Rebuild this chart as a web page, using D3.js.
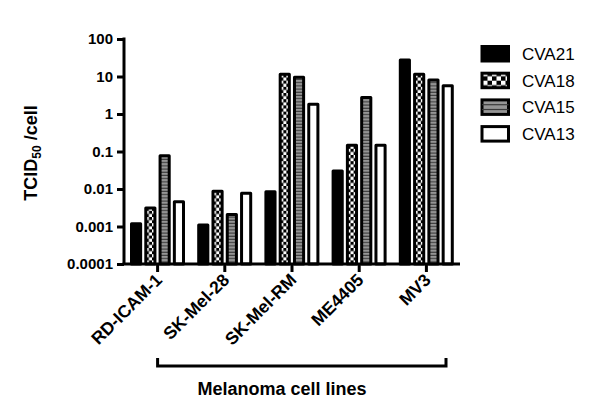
<!DOCTYPE html>
<html><head><meta charset="utf-8">
<script src="https://cdn.jsdelivr.net/npm/d3@7"></script>
<style>body{margin:0;background:#fff}svg{display:block}text{font-family:Arial,"Liberation Sans",sans-serif}</style>
</head><body><svg id="c" width="600" height="418"></svg>
<script>
const categories = ["RD-ICAM-1","SK-Mel-28","SK-Mel-RM","ME4405","MV3"];
const seriesNames = ["CVA21","CVA18","CVA15","CVA13"];
const CVA21 = [0.0013, 0.0012, 0.0092, 0.033, 30];
const CVA18 = [0.0034, 0.0095, 12.5, 0.16, 12.5];
const CVA15 = [0.085, 0.0023, 10.5, 3.0, 8.8];
const CVA13 = [0.005, 0.0085, 2.0, 0.16, 6.2];
const yTicks = [0.0001, 0.001, 0.01, 0.1, 1, 10, 100];
const yTickLabels = ["0.0001","0.001","0.01","0.1","1","10","100"];
const groupLabel = "Melanoma cell lines";
const seriesValues = [CVA21, CVA18, CVA15, CVA13];

(function(){
const svg = d3.select("#c");
const defs = svg.append("defs");
const mL = 124, mR = 460, mT = 39, mB = 264;

const x0 = d3.scaleBand().domain(categories).range([mL, mR]).padding(0);
const x1 = d3.scaleBand().domain(seriesNames).range([6, 61]).paddingInner(0.15).paddingOuter(0);
const y = d3.scaleLog().domain([1e-4, 100]).range([mB, mT]);

function checker(id, x, s) {
  const p = defs.append("pattern").attr("id", id).attr("patternUnits","userSpaceOnUse")
    .attr("x", x).attr("y", 0).attr("width", 2*s).attr("height", 2*s);
  p.append("rect").attr("width", 2*s).attr("height", 2*s).attr("fill", "#000");
  p.append("rect").attr("width", s).attr("height", s).attr("fill", "#fff");
  p.append("rect").attr("x", s).attr("y", s).attr("width", s).attr("height", s).attr("fill", "#fff");
}
function stripes(id, y0, period, dark) {
  const p = defs.append("pattern").attr("id", id).attr("patternUnits","userSpaceOnUse")
    .attr("x", 0).attr("y", y0).attr("width", 10).attr("height", period);
  p.append("rect").attr("width", 10).attr("height", period).attr("fill", "#959595");
  p.append("rect").attr("y", period-dark).attr("width", 10).attr("height", dark).attr("fill", "#3a3a3a");
}
categories.forEach((c, ci) => {
  const xs = x0(c) + x1("CVA18") + 1.5;
  checker("chk" + ci, xs, 3.1);
});
stripes("str", 0, 3.2, 1.1);

const data = [];
categories.forEach((c, ci) => seriesNames.forEach((s, si) => data.push({c, ci, s, si, v: seriesValues[si][ci]})));

function fillFor(d) {
  if (d.si === 0) return "#000";
  if (d.si === 1) return "url(#chk" + d.ci + ")";
  if (d.si === 2) return "url(#str)";
  return "#fff";
}

svg.append("g").selectAll("rect").data(data).join("rect")
  .attr("x", d => x0(d.c) + x1(d.s) + 1.5)
  .attr("width", x1.bandwidth() - 3)
  .attr("y", d => y(d.v) + 1.5)
  .attr("height", d => mB - y(d.v) - 1.5)
  .attr("fill", fillFor)
  .attr("stroke", "#000").attr("stroke-width", 3).attr("stroke-linejoin", "round");

const ya = svg.append("g").attr("transform", `translate(${mL},0)`)
  .call(d3.axisLeft(y).tickValues(yTicks).tickFormat((d,i) => yTickLabels[i]).tickSize(7).tickPadding(4));
ya.select(".domain").attr("stroke-width", 3).attr("d", `M0,${mT-1.5}V${mB}`);
ya.selectAll(".tick line").attr("stroke-width", 3);
ya.selectAll(".tick text").attr("font-size", 15).attr("font-weight", "bold").attr("fill", "#000")
  .attr("font-family", "Arial, 'Liberation Sans', sans-serif");

const xa = svg.append("g").attr("transform", `translate(0,${mB})`)
  .call(d3.axisBottom(x0).tickSize(8).tickFormat(""));
xa.select(".domain").attr("stroke-width", 3).attr("d", `M${mL-1.5},0H${mR}`);
xa.selectAll(".tick line").attr("stroke-width", 3);

svg.append("g").selectAll("text").data(categories).join("text")
  .attr("transform", d => `translate(${x0(d) + x0.bandwidth()/2 + 5.5},${mB + 17}) rotate(-45)`)
  .attr("text-anchor", "end").attr("font-size", 17.5).attr("font-weight", "bold").text(d => d);

const yl = svg.append("text").attr("transform", "translate(37,153) rotate(-90)")
  .attr("text-anchor", "middle").attr("font-size", 18).attr("font-weight", "bold");
yl.append("tspan").text("TCID");
yl.append("tspan").attr("font-size", 12).attr("dy", 4).text("50");
yl.append("tspan").attr("dy", -4).text(" /cell");

const bx0 = x0(categories[0]) + x0.bandwidth()/2;
const bx1 = mR - 14;
svg.append("path").attr("d", `M${bx0},358V366H${bx1}V358`).attr("fill", "none")
  .attr("stroke", "#000").attr("stroke-width", 3);
svg.append("text").attr("x", 282).attr("y", 395).attr("text-anchor", "middle")
  .attr("font-size", 18).attr("font-weight", "bold").text(groupLabel);

defs.append("pattern").attr("id", "lchk").attr("patternUnits", "userSpaceOnUse")
  .attr("x", 483).attr("y", 0).attr("width", 9).attr("height", 9)
  .call(p => { p.append("rect").attr("width", 9).attr("height", 9).attr("fill", "#000");
    p.append("rect").attr("width", 4.5).attr("height", 4.5).attr("fill", "#fff");
    p.append("rect").attr("x", 4.5).attr("y", 4.5).attr("width", 4.5).attr("height", 4.5).attr("fill", "#fff"); });
const lg = svg.append("g").selectAll("g").data(seriesNames).join("g")
  .attr("transform", (d, i) => `translate(0,${i * 26.7})`);
lg.append("rect").attr("x", 482).attr("y", 46.5).attr("width", 26.5).attr("height", 14.5)
  .attr("fill", (d, i) => i === 0 ? "#000" : i === 1 ? "url(#lchk)" : i === 2 ? "#959595" : "#fff")
  .attr("stroke", "#000").attr("stroke-width", 3);
lg.filter((d, i) => i === 2).selectAll("line").data([51.3, 56.1]).join("line")
  .attr("x1", 482).attr("x2", 508.5).attr("y1", d => d).attr("y2", d => d)
  .attr("stroke", "#3a3a3a").attr("stroke-width", 1.2);
lg.append("text").attr("x", 522).attr("y", 60).attr("font-size", 17).text(d => d);
})();
</script></body></html>
